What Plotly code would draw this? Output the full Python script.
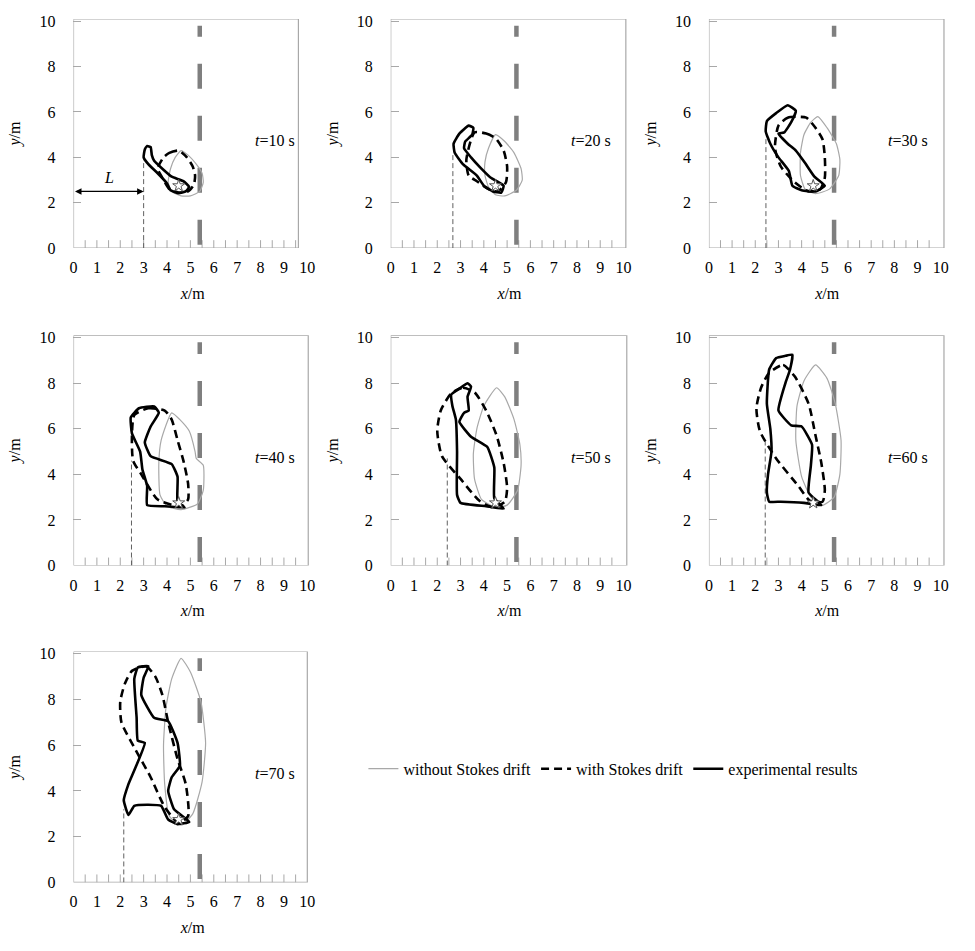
import numpy as np
import plotly.graph_objects as go

# ---------------- data ----------------
times = [10, 20, 30, 40, 50, 60, 70]
x_tick_labels = [str(v) for v in range(11)]
y_tick_vals = [0, 2, 4, 6, 8, 10]

barrier_x = 5.4
source_x = 4.5
source_y = 2.75
L_positions = [3.0, 2.67, 2.46, 2.48, 2.43, 2.43, 2.15]
L_line_tops = [3.9, 4.1, 4.9, 4.6, 4.7, 5.5, 3.2]

# without Stokes drift (grey thin outline)
without_10 = [(4.6, 4.3), (4.9, 4.1), (5.25, 3.7), (5.5, 3.3), (5.55, 2.9), (5.4, 2.5), (5.0, 2.3), (4.6, 2.3),
              (4.2, 2.5), (4.05, 2.9), (4.15, 3.5), (4.35, 4.0), (4.6, 4.3)]
without_20 = [(4.5, 5.0), (4.9, 4.7), (5.3, 4.2), (5.6, 3.5), (5.65, 3.0), (5.4, 2.55), (4.9, 2.3), (4.5, 2.35),
              (4.2, 2.7), (4.05, 3.2), (4.05, 3.8), (4.2, 4.4), (4.5, 5.0)]
without_30 = [(4.7, 5.8), (5.1, 5.3), (5.5, 4.6), (5.65, 3.9), (5.6, 3.2), (5.2, 2.6), (4.6, 2.4), (4.15, 2.6),
              (3.95, 3.2), (3.95, 4.2), (4.1, 5.0), (4.4, 5.55), (4.7, 5.8)]
without_40 = [(4.2, 6.7), (4.55, 6.4), (4.95, 5.9), (5.2, 5.0), (5.25, 4.7), (5.55, 4.4), (5.55, 3.3), (5.3, 2.7),
              (4.6, 2.45), (4.0, 2.6), (3.7, 3.1), (3.65, 4.5), (3.75, 5.5), (4.2, 6.7)]
without_50 = [(4.55, 7.8), (4.9, 7.4), (5.3, 6.4), (5.55, 5.3), (5.6, 4.4), (5.45, 3.3), (5.0, 2.65), (4.5, 2.55),
              (3.9, 2.9), (3.6, 3.8), (3.55, 4.9), (3.7, 6.0), (4.0, 7.0), (4.55, 7.8)]
without_60 = [(4.6, 8.8), (5.1, 8.2), (5.45, 7.1), (5.7, 5.5), (5.65, 4.0), (5.4, 3.0), (4.9, 2.65), (4.4, 3.0),
              (4.0, 3.9), (3.75, 5.5), (3.8, 7.0), (4.1, 8.1), (4.6, 8.8)]
without_70 = [(4.6, 9.8), (5.0, 9.2), (5.45, 7.9), (5.65, 6.1), (5.5, 4.4), (5.1, 3.0), (4.6, 2.5), (4.1, 2.9),
              (3.9, 4.3), (3.85, 6.0), (3.95, 7.6), (4.2, 8.9), (4.6, 9.8)]

# with Stokes drift (black dashed outline)
with_10 = [(3.85, 4.0), (4.1, 4.2), (4.5, 4.3), (4.85, 4.0), (5.1, 3.6), (5.2, 3.2), (5.15, 2.8), (4.9, 2.5),
           (4.5, 2.45), (4.1, 2.6), (3.8, 3.1), (3.6, 3.5), (3.85, 4.0)]
with_20 = [(3.6, 5.1), (4.1, 5.05), (4.5, 4.85), (4.85, 4.3), (5.0, 3.6), (4.95, 2.9), (4.6, 2.5), (4.2, 2.6),
           (3.7, 2.95), (3.35, 3.2), (3.25, 3.9), (3.6, 5.1)]
with_30 = [(3.0, 5.4), (3.4, 5.75), (4.2, 5.75), (4.6, 5.3), (4.9, 4.8), (5.0, 4.0), (5.0, 3.1), (4.8, 2.6),
           (4.3, 2.5), (3.7, 2.9), (3.1, 3.6), (2.85, 4.4), (3.0, 5.4)]
with_40 = [(2.6, 6.6), (3.2, 6.9), (3.9, 6.8), (4.2, 6.4), (4.45, 5.5), (4.7, 4.6), (4.9, 3.6), (4.9, 2.9),
           (4.6, 2.6), (3.6, 2.9), (2.9, 4.0), (2.55, 4.6), (2.5, 5.7), (2.6, 6.6)]
with_50 = [(2.6, 7.55), (3.1, 7.8), (3.6, 7.6), (4.1, 6.8), (4.55, 5.7), (4.85, 4.5), (5.0, 3.4), (4.9, 2.8),
           (4.4, 2.55), (3.8, 2.85), (3.0, 3.8), (2.2, 4.8), (2.0, 5.9), (2.15, 6.8), (2.6, 7.55)]
with_60 = [(2.6, 8.45), (3.2, 8.8), (3.7, 8.3), (4.3, 7.1), (4.6, 5.7), (4.85, 4.5), (5.0, 3.3), (4.9, 2.8),
           (4.35, 2.85), (3.85, 3.5), (2.9, 4.7), (2.2, 5.9), (2.05, 6.9), (2.25, 7.8), (2.6, 8.45)]
with_70 = [(2.5, 9.25), (3.1, 9.45), (3.5, 9.0), (3.8, 8.2), (4.05, 7.0), (4.45, 5.4), (4.8, 4.3), (4.9, 2.9),
           (4.5, 2.6), (3.9, 3.3), (3.3, 4.6), (2.6, 5.9), (2.05, 7.0), (2.0, 7.9), (2.2, 8.7), (2.5, 9.25)]

# experimental results (black thick outline)
exp_10 = [(3.15, 4.5), (3.3, 4.45), (3.35, 4.1), (3.45, 3.85), (3.8, 3.5), (4.2, 3.15), (4.7, 2.95), (4.95, 2.7),
          (4.8, 2.5), (4.5, 2.42), (4.15, 2.55), (4.0, 2.85), (3.6, 3.3), (3.2, 3.7), (3.0, 4.0), (3.05, 4.35),
          (3.15, 4.5)]
exp_20 = [(3.35, 5.4), (3.55, 5.3), (3.5, 5.0), (3.2, 4.7), (3.15, 4.4), (3.45, 4.0), (3.85, 3.55), (4.3, 3.1),
          (4.85, 2.75), (4.75, 2.45), (4.4, 2.5), (4.0, 2.75), (3.7, 3.2), (3.1, 3.7), (2.75, 4.2), (2.7, 4.6),
          (2.95, 5.05), (3.35, 5.4)]
exp_30 = [(2.5, 5.6), (2.9, 5.95), (3.4, 6.3), (3.75, 6.05), (3.55, 5.55), (3.25, 5.1), (3.0, 5.05), (3.4, 4.6),
          (3.75, 4.3), (4.15, 3.75), (4.55, 3.15), (5.0, 2.75), (4.6, 2.5), (4.0, 2.55), (3.6, 2.75), (3.45, 3.4),
          (3.0, 4.0), (2.65, 4.6), (2.45, 5.15), (2.5, 5.6)]
exp_40 = [(2.45, 6.5), (2.8, 6.9), (3.45, 6.98), (3.65, 6.7), (3.3, 6.1), (3.05, 5.4), (3.3, 4.8), (4.2, 4.45),
          (4.45, 3.9), (4.45, 2.8), (4.75, 2.55), (3.9, 2.6), (3.15, 2.65), (3.15, 3.5), (2.95, 4.2), (2.85, 5.0),
          (2.5, 5.8), (2.45, 6.5)]
exp_50 = [(3.3, 8.0), (3.0, 7.8), (2.6, 7.5), (2.65, 7.0), (2.8, 6.4), (2.85, 5.0), (2.85, 3.1), (3.0, 2.75),
          (4.1, 2.6), (4.85, 2.5), (4.45, 2.95), (4.45, 4.3), (4.15, 5.2), (3.45, 5.65), (2.95, 6.3), (3.15, 6.7),
          (3.35, 6.8), (3.3, 7.4), (3.45, 7.85), (3.3, 8.0)]
exp_60 = [(3.6, 9.25), (3.3, 9.2), (2.9, 9.1), (2.6, 8.6), (2.5, 7.1), (2.65, 6.0), (2.7, 5.0), (2.55, 4.0),
          (2.5, 3.2), (2.6, 2.8), (3.1, 2.8), (4.1, 2.75), (4.85, 2.65), (4.3, 3.2), (4.4, 4.4), (4.45, 5.3),
          (4.0, 6.1), (3.55, 6.15), (3.0, 6.8), (3.3, 8.0), (3.5, 8.6), (3.6, 9.25)]
exp_70 = [(2.75, 9.4), (3.2, 9.45), (3.0, 8.95), (2.9, 8.2), (3.45, 7.2), (4.05, 7.05), (4.45, 6.1), (4.55, 5.1),
          (4.2, 4.6), (4.05, 4.0), (4.3, 3.2), (4.95, 2.65), (4.45, 2.55), (4.05, 2.75), (3.75, 3.35), (3.2, 3.4),
          (2.6, 3.35), (2.35, 2.95), (2.15, 3.6), (2.35, 4.3), (3.05, 6.1), (2.75, 6.2), (2.7, 7.2), (2.6, 8.9),
          (2.75, 9.4)]

without_series = [without_10, without_20, without_30, without_40, without_50, without_60, without_70]
with_series = [with_10, with_20, with_30, with_40, with_50, with_60, with_70]
exp_series = [exp_10, exp_20, exp_30, exp_40, exp_50, exp_60, exp_70]

# ---------------- layout helpers ----------------
W, H = 975, 951
FONT = "Times New Roman, Liberation Serif, DejaVu Serif, serif"
FS = 16
col_px0 = [70, 389.5, 710]
col_sx = [23.55, 23.45, 23.35]
row_py0 = [246, 568.5, 890.5]
row_sy = [23.05, 23.16, 23.24]
X_MAX, Y_MAX = 10.2, 10.1
box_right = [9.62, 10.1, 10.14, 10.04, 10.14, 10.14, 10.0]
GRID = "#a8a8a8"

fig = go.Figure()
txtfont = dict(family=FONT, size=FS, color="black")
layout = dict(
    width=W, height=H, autosize=False,
    margin=dict(l=0, r=0, t=0, b=0),
    paper_bgcolor="white", plot_bgcolor="white",
    font=txtfont,
    showlegend=True,
    legend=dict(orientation="h", x=362 / W, xanchor="left", y=1 - 775 / H, yanchor="middle",
                font=txtfont, bgcolor="rgba(0,0,0,0)", itemwidth=30, tracegroupgap=0),
)
shapes = []
annotations = []

for i, t in enumerate(times):
    r, c = divmod(i, 3)
    xs = "x" if i == 0 else f"x{i + 1}"
    ys = "y" if i == 0 else f"y{i + 1}"
    xk = "xaxis" if i == 0 else f"xaxis{i + 1}"
    yk = "yaxis" if i == 0 else f"yaxis{i + 1}"
    px0, sx = col_px0[c], col_sx[c]
    py0, sy = row_py0[r], row_sy[r]
    layout[xk] = dict(
        domain=[px0 / W, (px0 + X_MAX * sx) / W], range=[0, X_MAX], anchor=ys,
        tickmode="array", tickvals=list(range(11)), ticktext=x_tick_labels,
        ticks="", showline=False, showgrid=False, zeroline=False, fixedrange=True,
        ticklabelstandoff=8, tickfont=txtfont,
        title=dict(text="<i>x</i>/m", standoff=12, font=txtfont),
    )
    layout[yk] = dict(
        domain=[1 - py0 / H, 1 - (py0 - Y_MAX * sy) / H], range=[0, Y_MAX], anchor=xs,
        tickmode="array", tickvals=y_tick_vals, ticktext=[str(v) for v in y_tick_vals],
        ticks="inside", ticklen=8, tickcolor=GRID, tickwidth=1,
        showline=False, showgrid=False, zeroline=False, fixedrange=True,
        ticklabelstandoff=17, tickfont=txtfont,
        title=dict(text="<i>y</i>/m", standoff=14, font=txtfont),
    )
    # frame
    shapes.append(dict(type="rect", xref=xs, yref=ys, x0=0, x1=box_right[i], y0=0, y1=Y_MAX,
                       line=dict(color=GRID, width=1.2), layer="below"))
    # x minor tick marks (inside)
    for tv in np.arange(0.5, 10.0, 0.5):
        shapes.append(dict(type="line", xref=xs, yref=ys, x0=tv, x1=tv, y0=0, y1=0.35,
                           line=dict(color=GRID, width=1), layer="below"))
    # time label
    annotations.append(dict(x=8.6, y=4.75, xref=xs, yref=ys, text=f"<i>t</i>={t} s", showarrow=False,
                            font=txtfont))

    first = i == 0
    # barrier line (thick grey dashed)
    fig.add_trace(go.Scatter(x=[barrier_x, barrier_x], y=[0.15, 9.8], xaxis=xs, yaxis=ys, mode="lines",
                             line=dict(color="#7f7f7f", width=4.5, dash="25px,27px"),
                             showlegend=False, hoverinfo="skip"))
    # L reference line
    fig.add_trace(go.Scatter(x=[L_positions[i], L_positions[i]], y=[0, L_line_tops[i]], xaxis=xs, yaxis=ys,
                             mode="lines", line=dict(color="#606060", width=1, dash="5px,3px"),
                             showlegend=False, hoverinfo="skip"))
    wx, wy = zip(*without_series[i])
    fig.add_trace(go.Scatter(x=wx, y=wy, xaxis=xs, yaxis=ys, mode="lines",
                             line=dict(color="#a8a8a8", width=1.2, shape="spline", smoothing=0.5),
                             name="without Stokes drift", legendgroup="wo", showlegend=first))
    sx_, sy_ = zip(*with_series[i])
    fig.add_trace(go.Scatter(x=sx_, y=sy_, xaxis=xs, yaxis=ys, mode="lines",
                             line=dict(color="black", width=2.6, dash="8px,5px", shape="spline", smoothing=0.6),
                             name="with Stokes drift", legendgroup="w", showlegend=first))
    ex, ey = zip(*exp_series[i])
    fig.add_trace(go.Scatter(x=ex, y=ey, xaxis=xs, yaxis=ys, mode="lines",
                             line=dict(color="black", width=2.6, shape="spline", smoothing=0.4),
                             name="experimental results", legendgroup="e", showlegend=first))
    fig.add_trace(go.Scatter(x=[source_x], y=[source_y], xaxis=xs, yaxis=ys, mode="markers",
                             marker=dict(symbol="star", size=9, color="white", line=dict(color="#555", width=1)),
                             showlegend=False, hoverinfo="skip"))

# L arrow in first panel
annotations.append(dict(x=L_positions[0], y=2.5, ax=0, ay=2.5, xref="x", yref="y", axref="x", ayref="y",
                        text="", showarrow=True, arrowhead=2, startarrowhead=2, arrowside="end+start",
                        arrowwidth=1.3, arrowsize=1, arrowcolor="black", standoff=0, startstandoff=0))
annotations.append(dict(x=L_positions[0] / 2, y=3.1, xref="x", yref="y", text="<i>L</i>", showarrow=False,
                        font=txtfont))

layout["shapes"] = shapes
layout["annotations"] = annotations
fig.update_layout(**layout)
fig.write_html("out.html")
